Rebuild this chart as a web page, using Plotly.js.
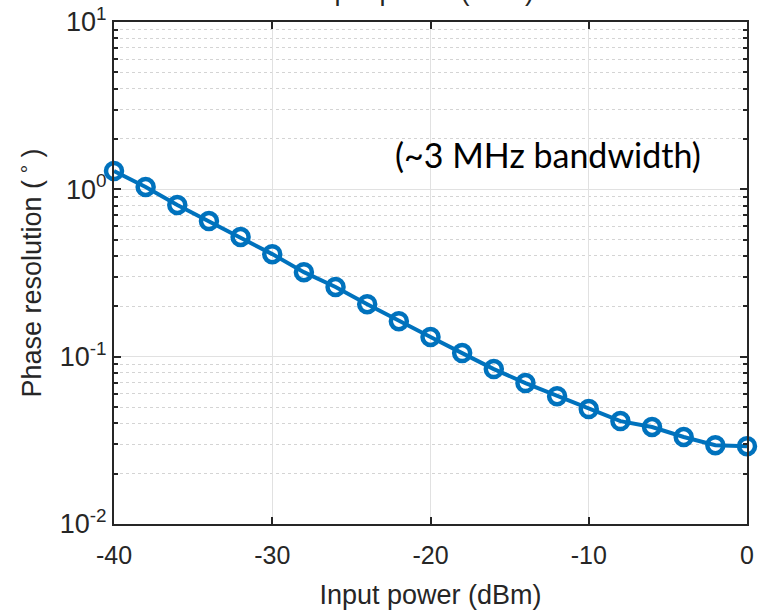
<!DOCTYPE html>
<html>
<head>
<meta charset="utf-8">
<script src="https://cdn.plot.ly/plotly-3.0.1.min.js"></script>
<style>html,body{margin:0;padding:0;background:#fff;}#chart{width:758px;height:610px;}</style>
</head>
<body>
<div id="chart"></div>
<script>
const inputPower = [-40,-38,-36,-34,-32,-30,-28,-26,-24,-22,-20,-18,-16,-14,-12,-10,-8,-6,-4,-2,0];
const phaseResolution = [1.285,1.032,0.806,0.646,0.519,0.410,0.320,0.261,0.206,0.163,0.131,0.105,0.0843,0.0695,0.0581,0.0486,0.0412,0.0380,0.0331,0.0296,0.0292];
const yTickVals = [0.01,0.1,1,10];
const yTickText = ['10<sup>-2</sup>','10<sup>-1</sup>','10<sup>0</sup>','10<sup>1</sup>'];
const yMinorTicks = [0.02,0.03,0.04,0.05,0.06,0.07,0.08,0.09,0.2,0.3,0.4,0.5,0.6,0.7,0.8,0.9,2,3,4,5,6,7,8,9];
const xTickVals = [-40,-30,-20,-10,0];
const xTickText = ['-40','-30','-20','-10','0'];

const axisColor = '#262626';
const fam = 'Liberation Sans, Arial, sans-serif';
const trace = {
  x: inputPower, y: phaseResolution, type: 'scatter', mode: 'lines+markers',
  line: {color: '#0072BD', width: 4},
  marker: {symbol: 'circle-open', size: 16, color: '#0072BD', line: {color: '#0072BD', width: 4.5}},
  cliponaxis: false, hoverinfo: 'skip'
};
const layout = {
  width: 758, height: 610,
  margin: {l: 114, r: 11, t: 22, b: 86},
  paper_bgcolor: '#fff', plot_bgcolor: '#fff',
  showlegend: false,
  font: {family: fam, size: 24, color: axisColor},
  xaxis: {
    range: [-40, 0], tickmode: 'array', tickvals: xTickVals, ticktext: xTickText,
    ticks: 'inside', ticklen: 7, tickwidth: 2, tickcolor: axisColor,
    showline: true, linewidth: 2, linecolor: axisColor, mirror: 'allticks',
    showgrid: true, gridcolor: '#e1e1e1', gridwidth: 1,
    zeroline: false, ticklabelstandoff: 8,
    tickfont: {family: fam, size: 25, color: axisColor},
    title: {text: 'Input power (dBm)', font: {family: fam, size: 27, color: axisColor}, standoff: 18}
  },
  yaxis: {
    type: 'log', range: [-2, 1], tickmode: 'array', tickvals: yTickVals, ticktext: yTickText,
    ticks: 'inside', ticklen: 7, tickwidth: 2, tickcolor: axisColor,
    showline: true, linewidth: 2, linecolor: axisColor, mirror: 'allticks',
    showgrid: true, gridcolor: '#e1e1e1', gridwidth: 1,
    zeroline: false,
    tickfont: {family: fam, size: 27, color: axisColor},
    minor: {tickmode: 'array', tickvals: yMinorTicks, ticks: 'inside', ticklen: 4, tickwidth: 2, tickcolor: axisColor,
            showgrid: true, gridcolor: '#d4d4d4', griddash: 'dot', gridwidth: 1},
    title: {text: 'Phase resolution (<sup> \u2218 </sup>)', font: {family: fam, size: 27, color: axisColor}, standoff: 10}
  },
  annotations: [
    {text: '(~3 MHz bandwidth)', xref: 'x', yref: 'paper', x: -12.6, y: 0.737,
     xanchor: 'center', yanchor: 'middle', showarrow: false,
     font: {family: 'Lato, Open Sans, sans-serif', size: 34, color: '#000'}},
    {text: 'Input power (dBm)', xref: 'x', yref: 'paper', x: -20.5, y: 1.062,
     xanchor: 'center', yanchor: 'middle', showarrow: false,
     font: {family: fam, size: 27, color: axisColor}}
  ]
};
Plotly.newPlot('chart', [trace], layout, {staticPlot: true, displayModeBar: false});
</script>
</body>
</html>
